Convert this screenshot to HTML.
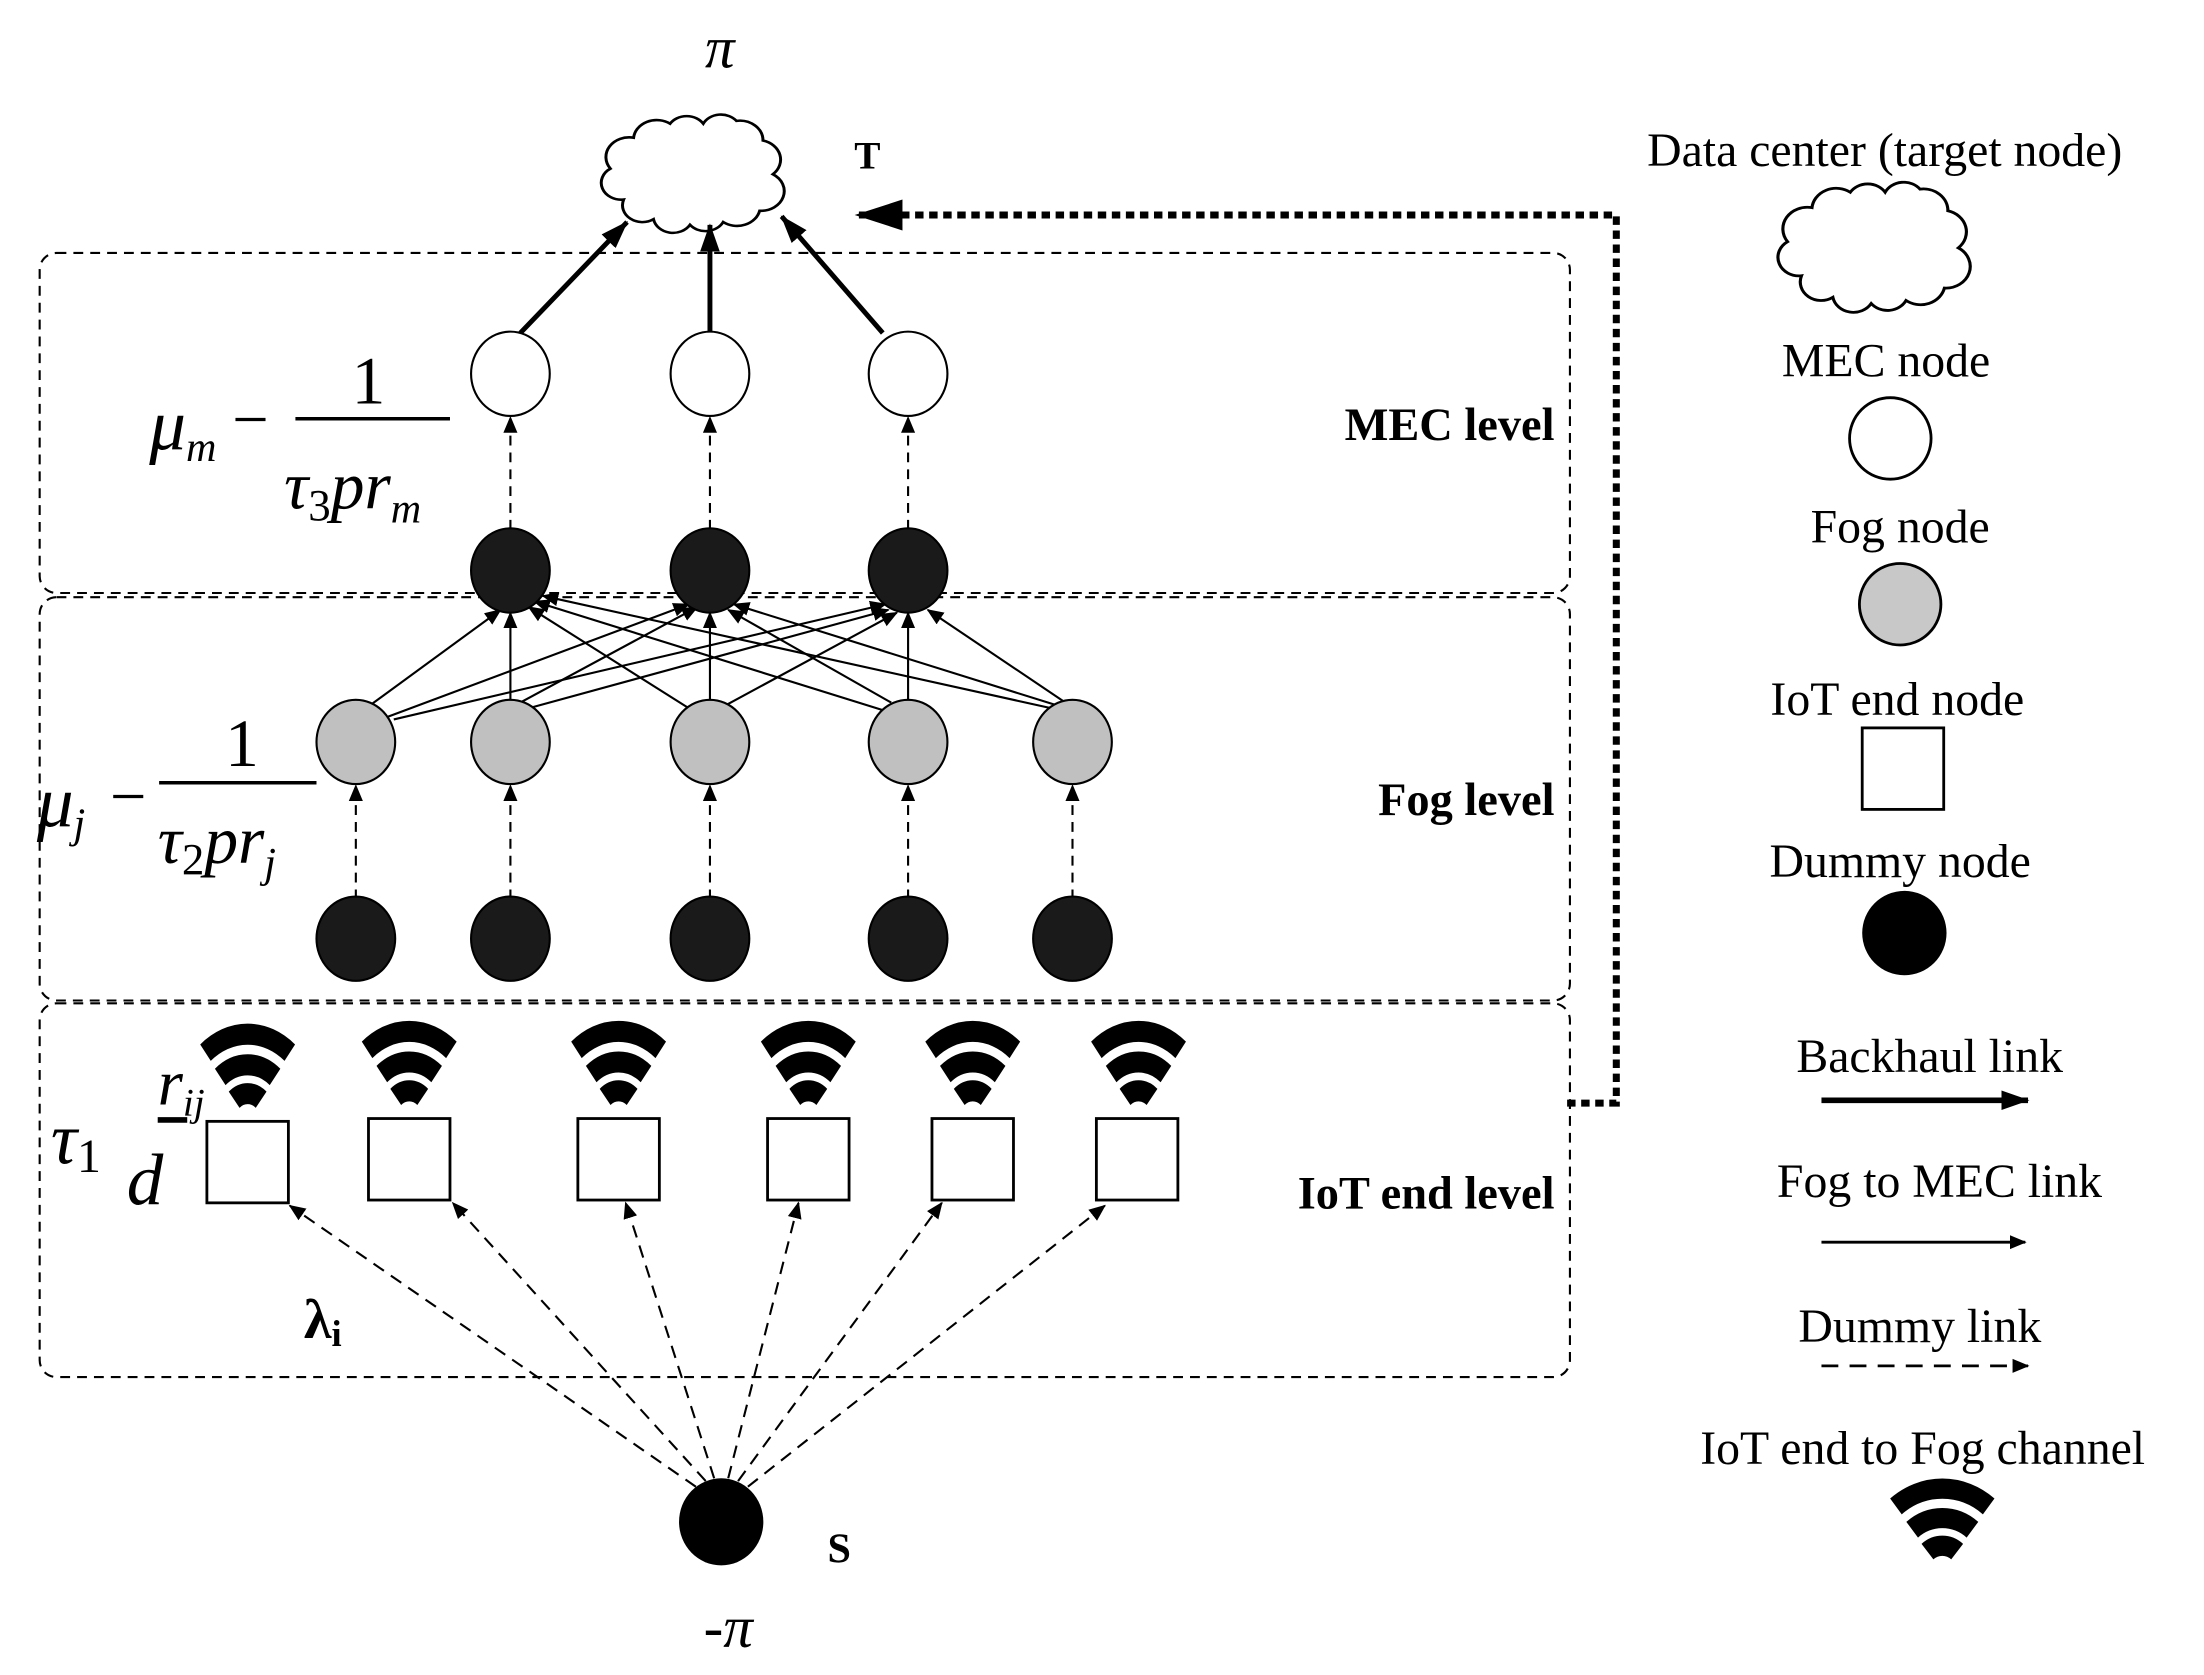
<!DOCTYPE html>
<html><head><meta charset="utf-8"><style>
html,body{margin:0;padding:0;background:#fff}
svg{display:block}
text{font-family:"Liberation Serif",serif;fill:#000}
.b{font-weight:bold}
.i{font-style:italic}
</style></head><body>
<svg width="2204" height="1675" viewBox="0 0 1568 1192" xmlns="http://www.w3.org/2000/svg">
<defs>
<marker id="ah" markerWidth="12" markerHeight="12" refX="11" refY="6" orient="auto" markerUnits="userSpaceOnUse" viewBox="0 0 12 12"><path d="M0,1 L12,6 L0,11 z" fill="#000"/></marker>
<marker id="ahb" markerWidth="34" markerHeight="24" refX="32" refY="12" orient="auto" markerUnits="userSpaceOnUse" viewBox="0 0 34 24"><path d="M0,1 L34,12 L0,23 z" fill="#000"/></marker>
<marker id="ahs" markerWidth="20" markerHeight="16" refX="19" refY="8" orient="auto" markerUnits="userSpaceOnUse" viewBox="0 0 20 16"><path d="M0,1 L20,8 L0,15 z" fill="#000"/></marker>
<path id="cloud" d="M20,62 a12,12 0 0 1 -8,-22 a14,14 0 0 1 14,-22 a14,14 0 0 1 22,-10 a12,12 0 0 1 20,0 a12,12 0 0 1 20,-2 a14,14 0 0 1 16,14 a14,14 0 0 1 6,24 a14,14 0 0 1 -8,26 a14,14 0 0 1 -22,8 a12,12 0 0 1 -20,2 a12,12 0 0 1 -22,-4 a12,12 0 0 1 -18,-14 z" fill="#fff" stroke="#000" stroke-width="1.8"/>
<g id="wifi" fill="none" stroke="#000" stroke-width="12">
<path d="M-30,-38.3 A48,48 0 0 1 30,-38.3"/>
<path d="M-19.5,-24.5 A31,31 0 0 1 19.5,-24.5"/>
<path d="M-9.6,-11.5 A15,15 0 0 1 9.6,-11.5"/>
</g>
</defs>

<g fill="none" stroke="#000" stroke-width="1.5" stroke-dasharray="7,5">
<rect x="28" y="180" width="1089" height="242" rx="12"/>
<rect x="28" y="425" width="1089" height="287" rx="12"/>
<rect x="28" y="714" width="1089" height="266" rx="12"/>
</g>

<use href="#cloud" transform="translate(420,80) scale(1.18,1)"/>
<text x="512" y="48" font-size="42" class="i" text-anchor="middle">π</text>
<text x="617" y="120" font-size="28" class="b" text-anchor="middle">T</text>

<path d="M1115,785 H1150 V153 H610" fill="none" stroke="#000" stroke-width="5" stroke-dasharray="6,4" marker-end="url(#ahb)"/>

<g stroke="#000" stroke-width="3.5" marker-end="url(#ahs)">
<line x1="370" y1="237" x2="446" y2="158"/>
<line x1="505" y1="237" x2="505" y2="160"/>
<line x1="628" y1="237" x2="556" y2="154"/>
</g>

<g stroke="#000" stroke-width="1.5" stroke-dasharray="7,5" marker-end="url(#ah)">
<line x1="363" y1="377" x2="363" y2="297"/>
<line x1="505" y1="377" x2="505" y2="297"/>
<line x1="646" y1="377" x2="646" y2="297"/>
</g>

<g stroke="#000" stroke-width="1.5" marker-end="url(#ah)">
<line x1="263" y1="502" x2="356" y2="434"/>
<line x1="276" y1="510" x2="490" y2="430"/>
<line x1="280" y1="512" x2="630" y2="430"/>
<line x1="363" y1="500" x2="363" y2="436"/>
<line x1="370" y1="500" x2="496" y2="432"/>
<line x1="376" y1="504" x2="632" y2="434"/>
<line x1="490" y1="504" x2="376" y2="432"/>
<line x1="505" y1="500" x2="505" y2="436"/>
<line x1="516" y1="502" x2="638" y2="436"/>
<line x1="630" y1="506" x2="380" y2="428"/>
<line x1="634" y1="500" x2="518" y2="434"/>
<line x1="646" y1="500" x2="646" y2="436"/>
<line x1="748" y1="504" x2="386" y2="424"/>
<line x1="752" y1="502" x2="522" y2="430"/>
<line x1="758" y1="500" x2="660" y2="434"/>
</g>

<g stroke="#000" stroke-width="1.5" stroke-dasharray="7,5" marker-end="url(#ah)">
<line x1="253" y1="640" x2="253" y2="559"/>
<line x1="363" y1="640" x2="363" y2="559"/>
<line x1="505" y1="640" x2="505" y2="559"/>
<line x1="646" y1="640" x2="646" y2="559"/>
<line x1="763" y1="640" x2="763" y2="559"/>
</g>

<g stroke="#000" stroke-width="1.5">
<ellipse cx="363" cy="266" rx="28" ry="30" fill="#fff"/>
<ellipse cx="505" cy="266" rx="28" ry="30" fill="#fff"/>
<ellipse cx="646" cy="266" rx="28" ry="30" fill="#fff"/>
<ellipse cx="363" cy="406" rx="28" ry="30" fill="#1a1a1a"/>
<ellipse cx="505" cy="406" rx="28" ry="30" fill="#1a1a1a"/>
<ellipse cx="646" cy="406" rx="28" ry="30" fill="#1a1a1a"/>
<ellipse cx="253" cy="528" rx="28" ry="30" fill="#c0c0c0"/>
<ellipse cx="363" cy="528" rx="28" ry="30" fill="#c0c0c0"/>
<ellipse cx="505" cy="528" rx="28" ry="30" fill="#c0c0c0"/>
<ellipse cx="646" cy="528" rx="28" ry="30" fill="#c0c0c0"/>
<ellipse cx="763" cy="528" rx="28" ry="30" fill="#c0c0c0"/>
<ellipse cx="253" cy="668" rx="28" ry="30" fill="#1a1a1a"/>
<ellipse cx="363" cy="668" rx="28" ry="30" fill="#1a1a1a"/>
<ellipse cx="505" cy="668" rx="28" ry="30" fill="#1a1a1a"/>
<ellipse cx="646" cy="668" rx="28" ry="30" fill="#1a1a1a"/>
<ellipse cx="763" cy="668" rx="28" ry="30" fill="#1a1a1a"/>
</g>

<g fill="#fff" stroke="#000" stroke-width="2">
<rect x="147" y="798" width="58" height="58"/>
<rect x="262" y="796" width="58" height="58"/>
<rect x="411" y="796" width="58" height="58"/>
<rect x="546" y="796" width="58" height="58"/>
<rect x="663" y="796" width="58" height="58"/>
<rect x="780" y="796" width="58" height="58"/>
</g>
<use href="#wifi" transform="translate(176,797) scale(1,1.25)"/>
<use href="#wifi" transform="translate(291,795) scale(1,1.25)"/>
<use href="#wifi" transform="translate(440,795) scale(1,1.25)"/>
<use href="#wifi" transform="translate(575,795) scale(1,1.25)"/>
<use href="#wifi" transform="translate(692,795) scale(1,1.25)"/>
<use href="#wifi" transform="translate(810,795) scale(1,1.25)"/>

<g stroke="#000" stroke-width="1.5" stroke-dasharray="9,6" marker-end="url(#ah)">
<line x1="495" y1="1058" x2="206" y2="858"/>
<line x1="502" y1="1054" x2="322" y2="856"/>
<line x1="508" y1="1052" x2="445" y2="856"/>
<line x1="518" y1="1052" x2="568" y2="856"/>
<line x1="525" y1="1054" x2="670" y2="856"/>
<line x1="532" y1="1058" x2="786" y2="858"/>
</g>
<ellipse cx="513" cy="1083" rx="30" ry="31" fill="#000"/>
<text x="597" y="1112" font-size="30" class="b" text-anchor="middle">S</text>
<text x="518" y="1172" font-size="42" class="i" text-anchor="middle">-π</text>
<text x="216" y="952" font-size="40" class="b">λ<tspan font-size="26" dy="6">i</tspan></text>

<g font-size="33" class="b" text-anchor="end">
<text x="1106" y="313" class="b">MEC level</text>
<text x="1106" y="580" class="b">Fog level</text>
<text x="1106" y="860" class="b">IoT end level</text>
</g>

<text x="106" y="320" font-size="52" class="i">μ<tspan font-size="30" dy="8">m</tspan></text>
<text x="165" y="314" font-size="46">−</text>
<text x="262" y="287" font-size="48" text-anchor="middle">1</text>
<line x1="210" y1="298" x2="320" y2="298" stroke="#000" stroke-width="2.5"/>
<text x="202" y="362" font-size="48" class="i">τ<tspan font-size="32" dy="8" font-style="normal">3</tspan><tspan dy="-8">pr</tspan><tspan font-size="30" dy="10">m</tspan></text>

<text x="26" y="588" font-size="52" class="i">μ<tspan font-size="30" dy="8">j</tspan></text>
<text x="78" y="582" font-size="46">−</text>
<text x="172" y="545" font-size="48" text-anchor="middle">1</text>
<line x1="113" y1="557" x2="225" y2="557" stroke="#000" stroke-width="2.5"/>
<text x="112" y="614" font-size="48" class="i">τ<tspan font-size="32" dy="8" font-style="normal">2</tspan><tspan dy="-8">pr</tspan><tspan font-size="30" dy="10">j</tspan></text>

<text x="36" y="828" font-size="52" class="i">τ<tspan font-size="34" dy="6" font-style="normal">1</tspan></text>
<text x="112" y="786" font-size="46" class="i">r<tspan font-size="28" dy="8">ij</tspan></text>
<line x1="112" y1="797" x2="133" y2="797" stroke="#000" stroke-width="4"/>
<text x="90" y="857" font-size="52" class="i">d</text>

<g font-size="34" text-anchor="middle">
<text x="1341" y="118">Data center (target node)</text>
<text x="1342" y="268">MEC node</text>
<text x="1352" y="386">Fog node</text>
<text x="1350" y="509">IoT end node</text>
<text x="1352" y="624">Dummy node</text>
<text x="1373" y="763">Backhaul link</text>
<text x="1380" y="852">Fog to MEC link</text>
<text x="1366" y="955">Dummy link</text>
<text x="1368" y="1042">IoT end to Fog channel</text>
</g>
<use href="#cloud" transform="translate(1257,128) scale(1.24,1.1)"/>
<ellipse cx="1345" cy="312" rx="29" ry="29" fill="#fff" stroke="#000" stroke-width="2"/>
<ellipse cx="1352" cy="430" rx="29" ry="29" fill="#c8c8c8" stroke="#000" stroke-width="2"/>
<rect x="1325" y="518" width="58" height="58" fill="#fff" stroke="#000" stroke-width="2"/>
<ellipse cx="1355" cy="664" rx="30" ry="30" fill="#000"/>
<line x1="1296" y1="783" x2="1443" y2="783" stroke="#000" stroke-width="4" marker-end="url(#ahs)"/>
<line x1="1296" y1="884" x2="1441" y2="884" stroke="#000" stroke-width="2" marker-end="url(#ah)"/>
<line x1="1296" y1="972" x2="1443" y2="972" stroke="#000" stroke-width="2" stroke-dasharray="12,8" marker-end="url(#ah)"/>
<use href="#wifi" transform="translate(1382,1118) scale(1.1,1.2)"/>
</svg>
</body></html>
